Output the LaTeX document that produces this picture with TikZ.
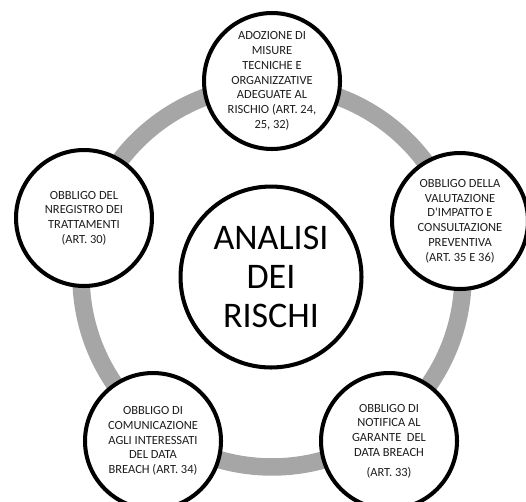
\documentclass[tikz,border=0pt]{standalone}
\usepackage{fontspec}
\setmainfont{Carlito}
\definecolor{ringgray}{RGB}{166,166,166}
\definecolor{textdark}{RGB}{30,30,30}
\usetikzlibrary{positioning}

\begin{document}
\begin{tikzpicture}[x=0.02cm, y=-0.02cm,
    obbligo/.style={circle, draw, line width=2.3pt, fill=white,
      minimum size=2.72cm, inner sep=0pt, align=center, text=textdark,
      font=\fontsize{7.1}{8.4}\selectfont}]
    \useasboundingbox (0,0) rectangle (526,501);

    % Gray ring
    \draw[ringgray, line width=0.35cm] (272,276) circle[radius=3.82cm];

    % Center
    \node[circle, draw, line width=2.3pt, fill=white, minimum size=3.62cm,
          align=center, font=\fontsize{20.5}{22}\selectfont] (analisi) at (271,277)
      {ANALISI\\DEI\\RISCHI};

    % Obligations
    \node[obbligo] (adozione) at (272,81)
      {ADOZIONE DI\\MISURE\\TECNICHE E\\ORGANIZZATIVE\\ADEGUATE AL\\RISCHIO (ART. 24,\\25, 32)};
    \node[obbligo] (valutazione) at (460,221)
      {OBBLIGO DELLA\\VALUTAZIONE\\D\textquotesingle IMPATTO E\\CONSULTAZIONE\\PREVENTIVA\\(ART. 35 E 36)};
    \node[obbligo] (notifica) at (389,441)
      {OBBLIGO DI\\NOTIFICA AL\\GARANTE\ \ DEL\\DATA BREACH\\[3pt](ART. 33)};
    \node[obbligo] (comunicazione) at (153,441)
      {OBBLIGO DI\\COMUNICAZIONE\\AGLI INTERESSATI\\DEL DATA\\BREACH (ART. 34)};
    \node[obbligo] (registro) at (84,218)
      {OBBLIGO DEL\\NREGISTRO DEI\\TRATTAMENTI\\(ART. 30)};
\end{tikzpicture}
\end{document}
